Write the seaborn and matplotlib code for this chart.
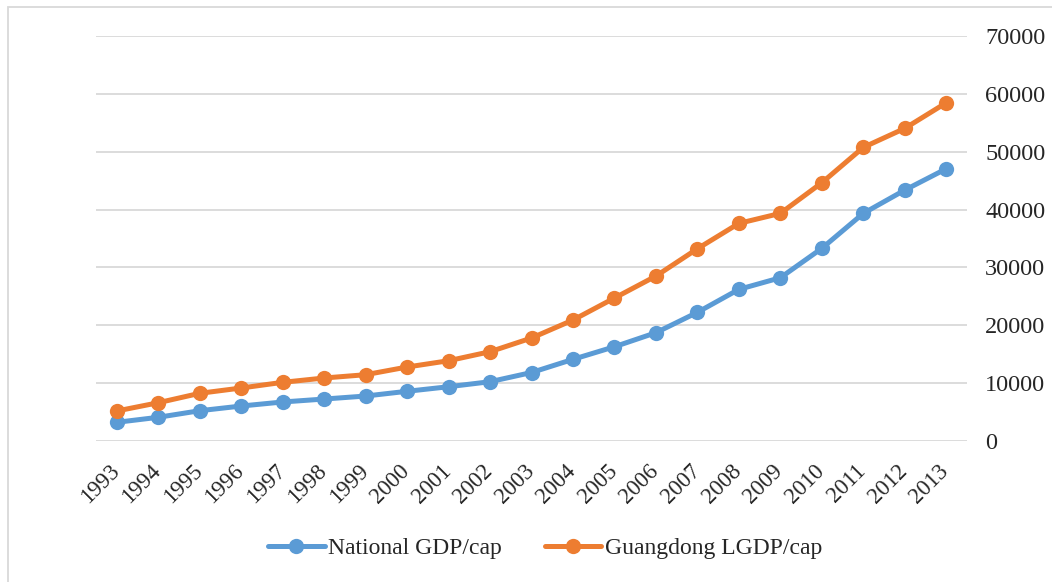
import pandas as pd
import seaborn as sns
import matplotlib.pyplot as plt
from matplotlib.patches import Rectangle
from matplotlib.lines import Line2D
from matplotlib.transforms import ScaledTranslation

years = [str(y) for y in range(1993, 2014)]
national = [3180, 4050, 5190, 6000, 6700, 7210, 7730, 8550, 9340, 10210, 11800,
            14080, 16260, 18690, 22210, 26190, 28200, 33290, 39340, 43370, 47060]
guangdong = [5140, 6570, 8200, 9120, 10100, 10850, 11420, 12750, 13840, 15400, 17770,
             20880, 24690, 28490, 33220, 37610, 39340, 44640, 50760, 54050, 58480]
series_names = ["National GDP/cap", "Guangdong LGDP/cap"]
colors = ["#5B9BD5", "#ED7D31"]

df = pd.DataFrame({
    "pos": list(range(len(years))) * 2,
    "year": years * 2,
    "value": national + guangdong,
    "series": [series_names[0]] * len(years) + [series_names[1]] * len(years),
})

sns.set_style("white")
plt.rcParams['font.family'] = ['Liberation Serif', 'DejaVu Serif']

fig = plt.figure(figsize=(10.52, 5.82), dpi=100)
ax = fig.add_axes([96 / 1052, 1 - 440.7 / 582, 871 / 1052, (440.7 - 36.2) / 582])

sns.lineplot(data=df, x="pos", y="value", hue="series", palette=colors,
             marker="o", markersize=11, markeredgewidth=0, linewidth=3.6,
             legend=False, ax=ax)

ax.set_xlim(-0.5, len(years) - 0.5)
ax.set_ylim(0, 70000)
ax.set_yticks(range(0, 70001, 10000))
ax.yaxis.tick_right()
ax.tick_params(axis='y', length=0, pad=13, labelsize=17.5)
ax.set_xticks(range(len(years)))
ax.set_xticklabels(years, rotation=45, ha='right', rotation_mode='anchor', fontsize=16.5)
ax.tick_params(axis='x', length=0, pad=14)
shift = ScaledTranslation(-8 / 100, 0, fig.dpi_scale_trans)
for lab in ax.get_xticklabels():
    lab.set_transform(lab.get_transform() + shift)
ax.set_xlabel("")
ax.set_ylabel("")
ax.grid(axis='y', color='#D9D9D9', linewidth=1.3)
ax.grid(axis='x', visible=False)
for s in ax.spines.values():
    s.set_visible(False)

handles = [Line2D([], [], color=c, linewidth=3.6, marker='o', markersize=11,
                  markeredgewidth=0) for c in colors]
fig.legend(handles, series_names, loc='center', bbox_to_anchor=(545 / 1052, 1 - 548 / 582),
           ncol=2, frameon=False, fontsize=17, handlelength=2.4, handletextpad=0.15,
           columnspacing=1.8)

# chart border
fig.patches.append(Rectangle((8 / 1052, -0.05), 1.1, 1 - 7 / 582 + 0.05,
                             transform=fig.transFigure, fill=False,
                             edgecolor='#D9D9D9', linewidth=1.3))

fig.savefig("out.png", dpi=100)
